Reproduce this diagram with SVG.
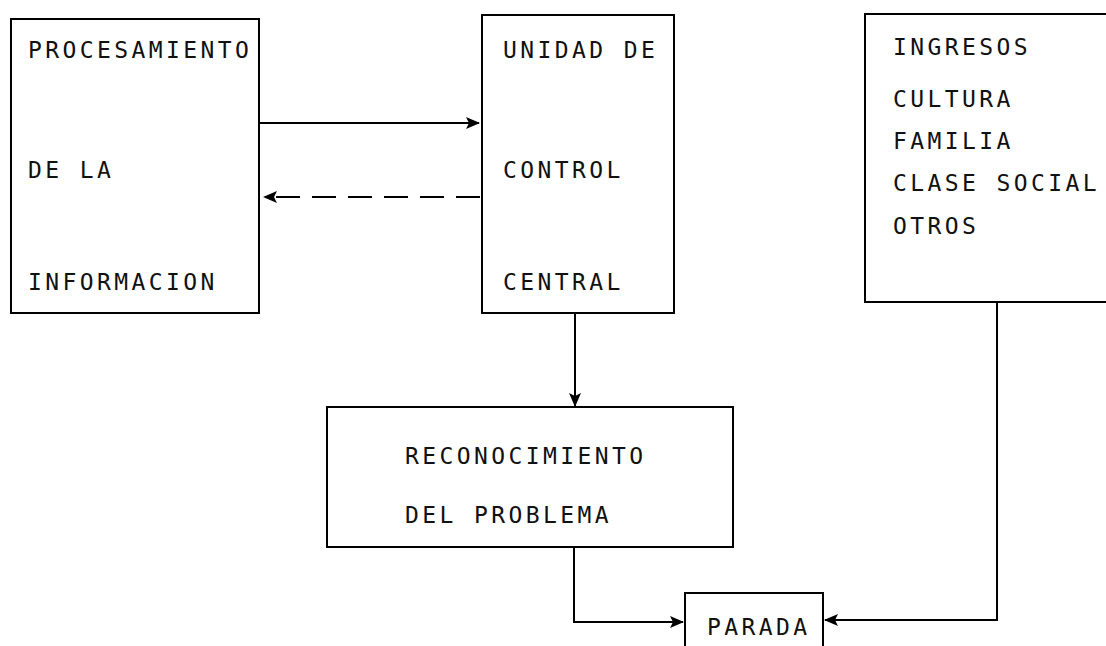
<svg xmlns="http://www.w3.org/2000/svg" width="1106" height="646" viewBox="0 0 1106 646">
<style>
.box{fill:none;stroke:#000;stroke-width:2}
.t{font-family:"DejaVu Sans Mono","Liberation Mono",monospace;font-size:23px;letter-spacing:3.4px;fill:#111}
.ln{fill:none;stroke:#000;stroke-width:2}
.dash{stroke-dasharray:24 12}
</style>
<defs>
<marker id="ah" viewBox="0 0 14 12" refX="13" refY="6" markerWidth="14" markerHeight="12" markerUnits="userSpaceOnUse" orient="auto">
<path d="M0,0 L14,6 L0,12 L3,6 Z" fill="#000"/>
</marker>
</defs>
<rect width="1106" height="646" fill="#fff"/>
<g id="procesamiento">
<rect class="box" x="11" y="19" width="248" height="294"/>
<text class="t" x="28" y="58">PROCESAMIENTO</text>
<text class="t" x="28" y="178">DE LA</text>
<text class="t" x="28" y="290">INFORMACION</text>
</g>
<g id="unidad">
<rect class="box" x="482" y="15" width="192" height="298"/>
<text class="t" x="503" y="58">UNIDAD DE</text>
<text class="t" x="503" y="178">CONTROL</text>
<text class="t" x="503" y="290">CENTRAL</text>
</g>
<g id="factores">
<rect class="box" x="865" y="14" width="260" height="288"/>
<text class="t" x="893" y="55">INGRESOS</text>
<text class="t" x="893" y="107">CULTURA</text>
<text class="t" x="893" y="149">FAMILIA</text>
<text class="t" x="893" y="191">CLASE SOCIAL</text>
<text class="t" x="893" y="234">OTROS</text>
</g>
<g id="reconocimiento">
<rect class="box" x="327" y="407" width="406" height="140"/>
<text class="t" x="405" y="464">RECONOCIMIENTO</text>
<text class="t" x="405" y="523">DEL PROBLEMA</text>
</g>
<g id="parada">
<rect class="box" x="685" y="593" width="138" height="70"/>
<text class="t" x="707" y="635">PARADA</text>
</g>
<g id="connectors">
<line class="ln" x1="259" y1="123" x2="479" y2="123" marker-end="url(#ah)"/>
<line class="ln dash" x1="480" y1="197" x2="264" y2="197" marker-end="url(#ah)"/>
<line class="ln" x1="575" y1="313" x2="575" y2="406" marker-end="url(#ah)"/>
<polyline class="ln" points="574,547 574,622 683,622" marker-end="url(#ah)"/>
<polyline class="ln" points="997,302 997,620 825,620" marker-end="url(#ah)"/>
</g>
</svg>
